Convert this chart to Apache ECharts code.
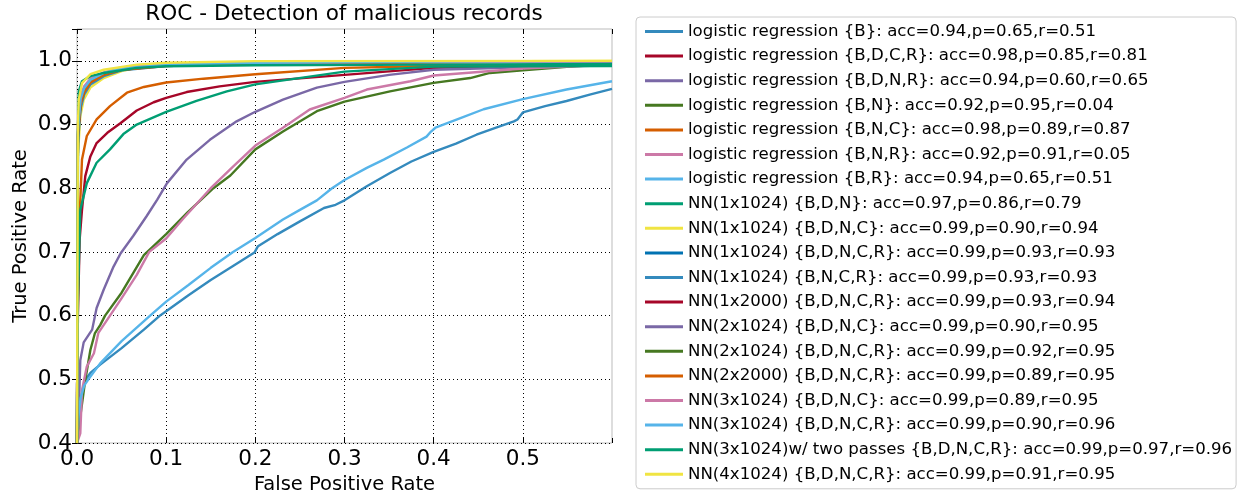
<!DOCTYPE html>
<html>
<head>
<meta charset="utf-8">
<script src="https://cdn.jsdelivr.net/npm/echarts@6/dist/echarts.min.js"></script>
<style>html,body{margin:0;padding:0;background:#fff}#chart{width:1247px;height:492px}</style>
</head>
<body>
<div id="chart"></div>
<script>
const seriesNames = [
  "logistic regression {B}: acc=0.94,p=0.65,r=0.51",
  "logistic regression {B,D,C,R}: acc=0.98,p=0.85,r=0.81",
  "logistic regression {B,D,N,R}: acc=0.94,p=0.60,r=0.65",
  "logistic regression {B,N}: acc=0.92,p=0.95,r=0.04",
  "logistic regression {B,N,C}: acc=0.98,p=0.89,r=0.87",
  "logistic regression {B,N,R}: acc=0.92,p=0.91,r=0.05",
  "logistic regression {B,R}: acc=0.94,p=0.65,r=0.51",
  "NN(1x1024) {B,D,N}: acc=0.97,p=0.86,r=0.79",
  "NN(1x1024) {B,D,N,C}: acc=0.99,p=0.90,r=0.94",
  "NN(1x1024) {B,D,N,C,R}: acc=0.99,p=0.93,r=0.93",
  "NN(1x1024) {B,N,C,R}: acc=0.99,p=0.93,r=0.93",
  "NN(1x2000) {B,D,N,C,R}: acc=0.99,p=0.93,r=0.94",
  "NN(2x1024) {B,D,N,C}: acc=0.99,p=0.90,r=0.95",
  "NN(2x1024) {B,D,N,C,R}: acc=0.99,p=0.92,r=0.95",
  "NN(2x2000) {B,D,N,C,R}: acc=0.99,p=0.89,r=0.95",
  "NN(3x1024) {B,D,N,C}: acc=0.99,p=0.89,r=0.95",
  "NN(3x1024) {B,D,N,C,R}: acc=0.99,p=0.90,r=0.96",
  "NN(3x1024)w/ two passes {B,D,N,C,R}: acc=0.99,p=0.97,r=0.96",
  "NN(4x1024) {B,D,N,C,R}: acc=0.99,p=0.91,r=0.95"
];
const seriesColors = ['#348ABD','#A60628','#7A68A6','#467821','#D55E00','#CC79A7','#56B4E9','#009E73','#F0E442','#0072B2',
  '#348ABD','#A60628','#7A68A6','#467821','#D55E00','#CC79A7','#56B4E9','#009E73','#F0E442'];

// [FPR, TPR] pairs
const lrB = [[0,0.4],[0.002,0.44],[0.003,0.457],[0.007,0.488],[0.01,0.5],[0.015,0.51],[0.026,0.523],[0.05,0.549],[0.075,0.578],[0.093,0.6],[0.1,0.607],[0.125,0.632],[0.15,0.656],[0.175,0.678],[0.199,0.699],[0.203,0.709],[0.225,0.728],[0.25,0.748],[0.277,0.769],[0.29,0.774],[0.3,0.781],[0.325,0.803],[0.351,0.824],[0.375,0.842],[0.4,0.857],[0.425,0.870],[0.448,0.884],[0.47,0.895],[0.49,0.905],[0.494,0.908],[0.5,0.919],[0.525,0.929],[0.549,0.937],[0.575,0.947],[0.6,0.956]];
const lrBDCR = [[0,0.4],[0.001,0.6],[0.003,0.72],[0.0056,0.766],[0.0093,0.819],[0.015,0.85],[0.022,0.871],[0.034,0.887],[0.049,0.9025],[0.067,0.922],[0.086,0.935],[0.1,0.942],[0.123,0.951],[0.16,0.96],[0.2,0.967],[0.3,0.978],[0.4,0.989],[0.5,0.992],[0.6,0.994]];
const lrBDNR = [[0,0.4],[0.002,0.447],[0.0037,0.53],[0.0075,0.558],[0.017,0.578],[0.022,0.612],[0.03,0.641],[0.041,0.677],[0.049,0.698],[0.063,0.725],[0.078,0.756],[0.09,0.782],[0.101,0.808],[0.123,0.845],[0.149,0.876],[0.179,0.905],[0.2,0.92],[0.231,0.939],[0.269,0.958],[0.3,0.967],[0.35,0.978],[0.4,0.986],[0.5,0.99],[0.6,0.993]];
const lrBN = [[0,0.4],[0.0037,0.442],[0.0093,0.499],[0.015,0.546],[0.02,0.572],[0.026,0.585],[0.0315,0.6],[0.05,0.636],[0.0635,0.668],[0.075,0.695],[0.1,0.728],[0.124,0.762],[0.153,0.80],[0.172,0.82],[0.2,0.861],[0.231,0.889],[0.269,0.921],[0.3,0.936],[0.351,0.952],[0.4,0.9655],[0.441,0.973],[0.463,0.981],[0.5,0.985],[0.56,0.992],[0.6,0.994]];
const lrBNC = [[0,0.4],[0.001,0.65],[0.003,0.76],[0.004,0.79],[0.0056,0.845],[0.011,0.882],[0.022,0.908],[0.037,0.929],[0.056,0.95],[0.075,0.959],[0.1,0.966],[0.142,0.972],[0.2,0.979],[0.3,0.989],[0.4,0.992],[0.6,0.995]];
const lrBNR = [[0,0.4],[0.0037,0.415],[0.0056,0.483],[0.011,0.52],[0.019,0.541],[0.024,0.573],[0.037,0.6],[0.049,0.625],[0.067,0.664],[0.081,0.7],[0.1,0.721],[0.119,0.752],[0.15,0.8],[0.175,0.834],[0.2,0.867],[0.231,0.895],[0.261,0.9236],[0.3,0.942],[0.325,0.955],[0.374,0.968],[0.4,0.977],[0.5,0.988],[0.6,0.994]];
const lrBR = [[0,0.4],[0.002,0.447],[0.004,0.47],[0.008,0.49],[0.0128,0.5],[0.026,0.525],[0.05,0.56],[0.082,0.6],[0.1,0.622],[0.125,0.648],[0.15,0.675],[0.175,0.7],[0.2,0.722],[0.231,0.751],[0.25,0.766],[0.269,0.781],[0.286,0.8],[0.3,0.813],[0.325,0.832],[0.344,0.845],[0.37,0.864],[0.392,0.881],[0.397,0.889],[0.402,0.895],[0.43,0.91],[0.456,0.924],[0.5,0.940],[0.549,0.955],[0.6,0.968]];
const nn1BDN = [[0,0.4],[0.001,0.62],[0.0026,0.709],[0.0037,0.766],[0.011,0.808],[0.022,0.84],[0.037,0.861],[0.052,0.885],[0.067,0.9],[0.1,0.92],[0.134,0.937],[0.168,0.952],[0.2,0.963],[0.3,0.983],[0.4,0.991],[0.6,0.992]];
const nn1BDNC = [[0,0.4],[0.001,0.85],[0.0037,0.913],[0.0075,0.939],[0.015,0.958],[0.03,0.973],[0.05,0.984],[0.067,0.989],[0.1,0.994],[0.2,0.998],[0.4,0.999],[0.6,1.0]];
const nn1BDNCR = [[0,0.4],[0.001,0.88],[0.004,0.93],[0.008,0.95],[0.015,0.966],[0.03,0.978],[0.05,0.986],[0.1,0.993],[0.2,0.997],[0.4,0.999],[0.6,0.9995]];
const nn1BNCR = [[0,0.4],[0.001,0.87],[0.004,0.925],[0.008,0.947],[0.015,0.963],[0.03,0.976],[0.05,0.985],[0.1,0.992],[0.2,0.996],[0.4,0.998],[0.6,0.999]];
const nn1x2000 = [[0,0.4],[0.001,0.885],[0.004,0.935],[0.008,0.953],[0.015,0.968],[0.03,0.979],[0.05,0.987],[0.1,0.993],[0.2,0.997],[0.4,0.999],[0.6,0.9995]];
const nn2BDNC = [[0,0.4],[0.001,0.89],[0.004,0.937],[0.008,0.955],[0.015,0.969],[0.03,0.98],[0.05,0.987],[0.1,0.993],[0.2,0.996],[0.4,0.998],[0.6,0.999]];
const nn2BDNCR = [[0,0.4],[0.001,0.885],[0.004,0.934],[0.008,0.952],[0.015,0.967],[0.03,0.979],[0.05,0.986],[0.1,0.993],[0.2,0.997],[0.4,0.998],[0.6,0.999]];
const nn2x2000 = [[0,0.4],[0.001,0.88],[0.004,0.932],[0.008,0.951],[0.015,0.966],[0.03,0.978],[0.05,0.986],[0.1,0.992],[0.2,0.996],[0.4,0.998],[0.6,0.999]];
const nn3BDNC = [[0,0.4],[0.001,0.9],[0.004,0.945],[0.008,0.96],[0.015,0.972],[0.03,0.982],[0.05,0.989],[0.1,0.995],[0.2,0.997],[0.4,0.998],[0.6,0.998]];
const nn3BDNCR = [[0,0.4],[0.001,0.89],[0.004,0.94],[0.008,0.957],[0.015,0.97],[0.03,0.981],[0.05,0.988],[0.1,0.994],[0.2,0.997],[0.4,0.999],[0.6,0.9995]];
const nn3two = [[0,0.4],[0.0012,0.9],[0.002,0.952],[0.0056,0.968],[0.015,0.976],[0.03,0.981],[0.067,0.989],[0.1,0.9915],[0.2,0.993],[0.4,0.994],[0.6,0.995]];
const nn4BDNCR = [[0,0.4],[0.001,0.9],[0.002,0.939],[0.0056,0.965],[0.015,0.979],[0.03,0.986],[0.067,0.994],[0.1,0.997],[0.2,0.9995],[0.6,1.0]];

const seriesData = [lrB, lrBDCR, lrBDNR, lrBN, lrBNC, lrBNR, lrBR, nn1BDN, nn1BDNC, nn1BDNCR, nn1BNCR, nn1x2000,
  nn2BDNC, nn2BDNCR, nn2x2000, nn3BDNC, nn3BDNCR, nn3two, nn4BDNCR];

const xTicks = [0, 0.1, 0.2, 0.3, 0.4, 0.5];
const yTicks = [0.4, 0.5, 0.6, 0.7, 0.8, 0.9, 1.0];

const FONT = 'DejaVu Sans';
const chart = echarts.init(document.getElementById('chart'), null, {renderer: 'canvas'});
const isTick = (v, arr) => arr.some(t => Math.abs(t - v) < 1e-6);
const tickStyle = {show: true, inside: true, length: 5, lineStyle: {color: '#000', width: 1}};

chart.setOption({
  animation: false,
  backgroundColor: '#fff',
  title: {
    text: 'ROC - Detection of malicious records',
    left: 344, top: 3, textAlign: 'center', padding: 0,
    textStyle: {fontFamily: FONT, fontSize: 21.6, fontWeight: 'normal', color: '#000'}
  },
  grid: {left: 77, top: 29, width: 535, height: 414, show: true, borderColor: '#bbbbbb', borderWidth: 1,
    backgroundColor: 'transparent', containLabel: false, outerBoundsMode: 'none'},
  legend: {
    orient: 'vertical', left: 636, top: 17,
    icon: 'rect', itemWidth: 38, itemHeight: 3, itemGap: 7.6,
    padding: [6, 4, 6, 9],
    borderColor: '#cccccc', borderWidth: 1, borderRadius: 4,
    data: seriesNames,
    textStyle: {fontFamily: FONT, fontSize: 16.6, color: '#000', lineHeight: 17}
  },
  xAxis: [{
    type: 'value', min: 0, max: 0.6, interval: 0.1, position: 'bottom',
    name: 'False Positive Rate', nameLocation: 'middle', nameGap: 31,
    nameTextStyle: {fontFamily: FONT, fontSize: 19.5, color: '#000'},
    axisLine: {show: false}, axisTick: tickStyle,
    axisLabel: {fontFamily: FONT, fontSize: 21.5, color: '#000', margin: 5,
      formatter: v => isTick(v, xTicks) ? v.toFixed(1) : ''},
    splitLine: {show: true, lineStyle: {color: ['#000','#000','#000','#000','#000','#000','rgba(0,0,0,0)'], type: [1, 3], width: 1}}
  }, {
    type: 'value', min: 0, max: 0.6, interval: 0.1, position: 'top',
    axisLine: {show: false}, axisTick: tickStyle, axisLabel: {show: false}, splitLine: {show: false}
  }],
  yAxis: [{
    type: 'value', min: 0.4, max: 1.05, interval: 0.1, position: 'left',
    name: 'True Positive Rate', nameLocation: 'middle', nameGap: 46,
    nameTextStyle: {fontFamily: FONT, fontSize: 19.5, color: '#000'},
    axisLine: {show: false}, axisTick: tickStyle,
    axisLabel: {fontFamily: FONT, fontSize: 21.5, color: '#000', margin: 5,
      formatter: v => isTick(v, yTicks) ? v.toFixed(1) : ''},
    splitLine: {show: true, lineStyle: {color: ['#000','#000','#000','#000','#000','#000','#000','rgba(0,0,0,0)'], type: [1, 3], width: 1}}
  }, {
    type: 'value', min: 0.4, max: 1.05, interval: 0.1, position: 'right',
    axisLine: {show: false}, axisTick: tickStyle, axisLabel: {show: false}, splitLine: {show: false}
  }],
  series: seriesNames.map((n, i) => ({
    name: n, type: 'line', data: seriesData[i], showSymbol: false, symbol: 'none',
    xAxisIndex: 0, yAxisIndex: 0,
    clip: true, color: seriesColors[i],
    lineStyle: {color: seriesColors[i], width: 2.4}
  }))
});
</script>
</body>
</html>
